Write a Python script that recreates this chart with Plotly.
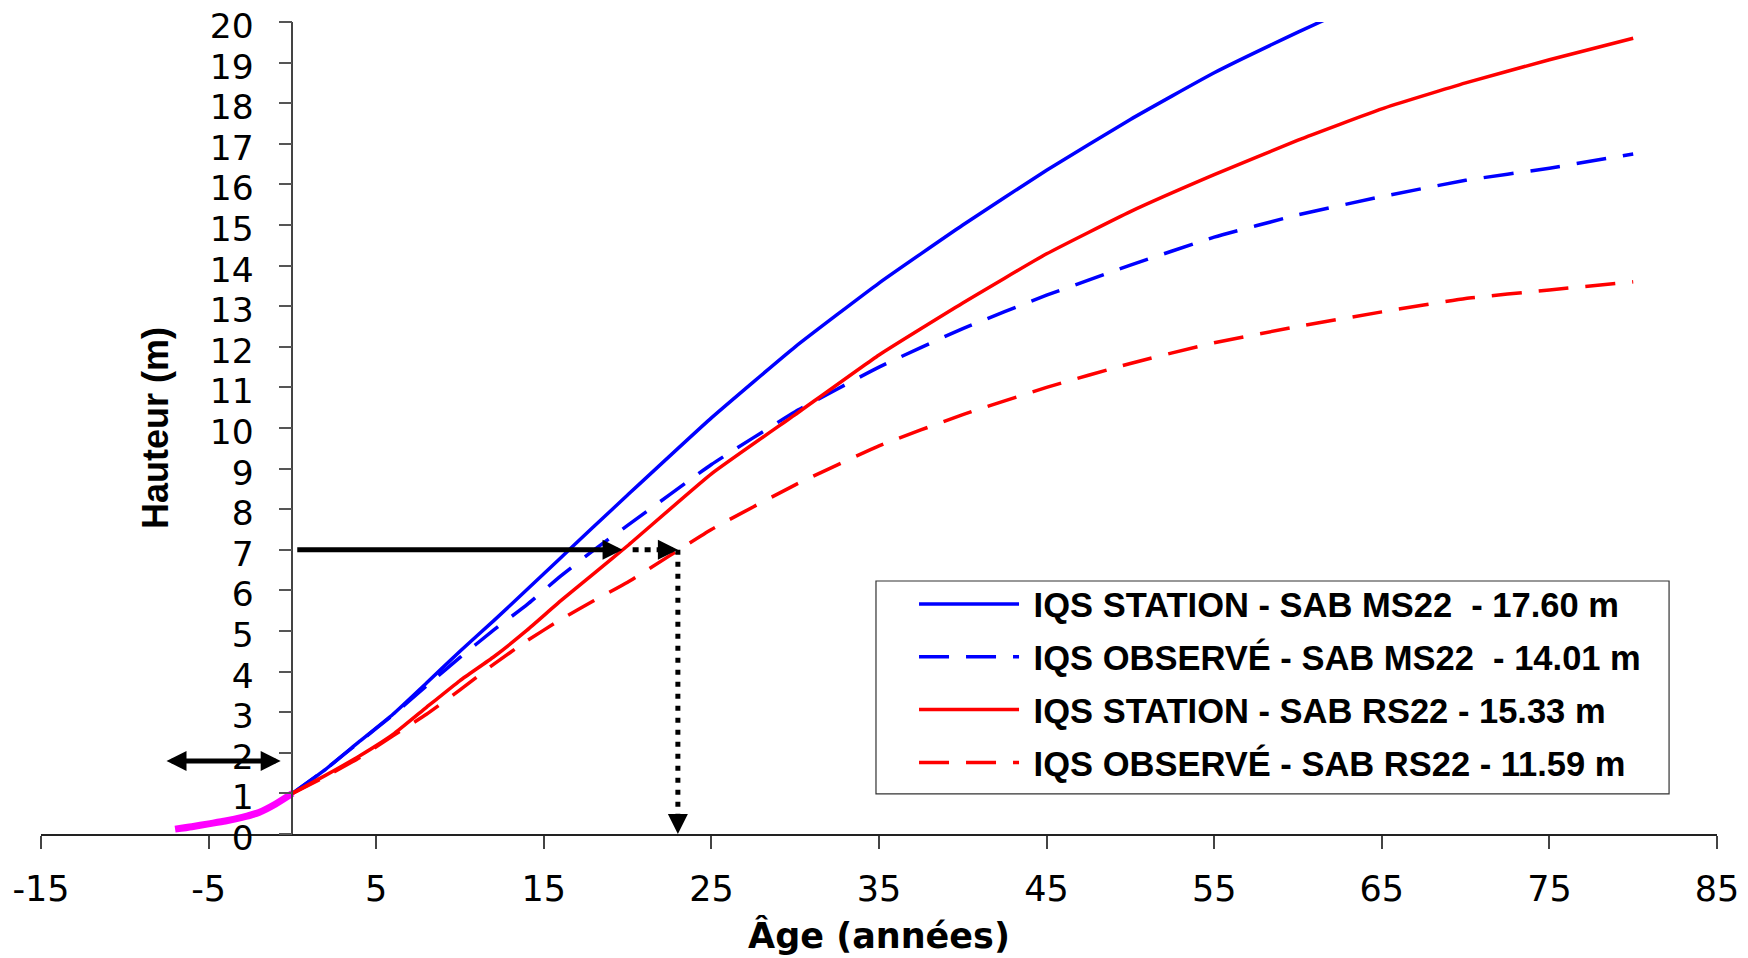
import plotly.graph_objects as go

# ---------------- data ----------------
AGES = [0, 2, 4, 6, 8, 10, 12, 14, 16, 18, 20, 25, 30, 35, 40, 45, 50, 55, 60, 65, 70, 75, 80]

STATION_MS22 = [1.0, 1.60, 2.28, 2.95, 3.72, 4.50, 5.25, 6.02, 6.80, 7.58, 8.35, 10.25, 12.0,
                13.57, 15.0, 16.35, 17.60, 18.75, 19.75, 20.7, None, None, None]
OBSERVE_MS22 = [1.0, 1.60, 2.27, 2.93, 3.65, 4.35, 5.02, 5.65, 6.35, 7.0, 7.6, 9.1, 10.4,
                11.5, 12.45, 13.27, 14.01, 14.7, 15.25, 15.7, 16.1, 16.4, 16.75]
STATION_RS22 = [1.0, 1.45, 1.92, 2.45, 3.12, 3.78, 4.36, 5.02, 5.74, 6.42, 7.10, 8.87, 10.33,
                11.8, 13.08, 14.29, 15.33, 16.24, 17.09, 17.86, 18.5, 19.07, 19.6]
OBSERVE_RS22 = [1.0, 1.42, 1.88, 2.42, 2.95, 3.55, 4.18, 4.76, 5.28, 5.75, 6.20, 7.5, 8.6,
                9.56, 10.33, 11.0, 11.59, 12.1, 12.5, 12.86, 13.19, 13.4, 13.6]

JUV_AGES = [-7, -6, -5, -4, -3, -2, -1, 0]
JUV_HEIGHTS = [0.12, 0.18, 0.25, 0.32, 0.41, 0.53, 0.74, 1.0]

SERIES_NAMES = [
    "IQS STATION - SAB MS22\u00a0 - 17.60 m",
    "IQS OBSERVÉ - SAB MS22\u00a0 - 14.01 m",
    "IQS STATION - SAB RS22 - 15.33 m",
    "IQS OBSERVÉ - SAB RS22 - 11.59 m",
]

# reading arrows (height 7 m -> age)
REF_HEIGHT = 7
AGE_STATION_RS22 = 19.7
AGE_OBSERVE_RS22 = 23
JUV_ARROW_Y = 1.8
JUV_ARROW_X = [-7.6, -0.7]

X_TICKS = [-15, -5, 5, 15, 25, 35, 45, 55, 65, 75, 85]
Y_TICKS = list(range(0, 21))

# ---------------- figure ----------------
BLUE = "#0000FF"
RED = "#FF0000"
MAG = "#FF00FF"
DASH = "30px,17px"

fig = go.Figure()
styles = [(BLUE, "solid"), (BLUE, DASH), (RED, "solid"), (RED, DASH)]
values = [STATION_MS22, OBSERVE_MS22, STATION_RS22, OBSERVE_RS22]
for i, (name, vals, (col, dash)) in enumerate(zip(SERIES_NAMES, values, styles)):
    fig.add_trace(go.Scatter(
        x=AGES, y=vals, mode="lines", name="\u00a0" + name, legendgroup=f"g{i}",
        line=dict(color=col, width=3.5, dash=dash, shape="spline", smoothing=0.4),
        connectgaps=False,
    ))

fig.add_trace(go.Scatter(
    x=JUV_AGES, y=JUV_HEIGHTS, mode="lines", showlegend=False,
    line=dict(color=MAG, width=7, shape="spline", smoothing=0.6),
))

WIDE = "DejaVu Sans, Verdana, sans-serif"
FONT = "Liberation Sans, Arial, sans-serif"
NARROW = "Liberation Sans Narrow, Arial Narrow, Liberation Sans, Arial, sans-serif"

shapes = [
    # dotted continuation lines
    dict(type="line", xref="x", yref="y", x0=AGE_STATION_RS22 + 0.6, x1=AGE_OBSERVE_RS22 - 0.9,
         y0=REF_HEIGHT, y1=REF_HEIGHT, line=dict(color="black", width=5, dash="6px,6px")),
    dict(type="line", xref="x", yref="y", x0=AGE_OBSERVE_RS22, x1=AGE_OBSERVE_RS22,
         y0=REF_HEIGHT, y1=0.4, line=dict(color="black", width=5, dash="5px,7px")),
    # legend frame
    dict(type="rect", xref="paper", yref="paper", x0=0.4982, x1=0.9714, y0=0.0493, y1=0.3116,
         line=dict(color="#333333", width=1.2), fillcolor="rgba(0,0,0,0)", layer="above"),
]

annotations = [
    dict(x=AGE_STATION_RS22, y=REF_HEIGHT, ax=0.2, ay=REF_HEIGHT, xref="x", yref="y",
         axref="x", ayref="y", text="", showarrow=True, arrowhead=2, arrowsize=0.8,
         arrowwidth=5, arrowcolor="black", standoff=0),
    dict(x=AGE_OBSERVE_RS22, y=REF_HEIGHT, ax=AGE_OBSERVE_RS22 - 0.9, ay=REF_HEIGHT, xref="x", yref="y",
         axref="x", ayref="y", text="", showarrow=True, arrowhead=2, arrowsize=0.8,
         arrowwidth=5, arrowcolor="black", standoff=0),
    dict(x=AGE_OBSERVE_RS22, y=0, ax=AGE_OBSERVE_RS22, ay=0.4, xref="x", yref="y",
         axref="x", ayref="y", text="", showarrow=True, arrowhead=2, arrowsize=1.0,
         arrowwidth=4, arrowcolor="black", standoff=0),
    dict(x=JUV_ARROW_X[1], y=JUV_ARROW_Y, ax=JUV_ARROW_X[0], ay=JUV_ARROW_Y, xref="x", yref="y",
         axref="x", ayref="y", text="", showarrow=True, arrowhead=2, startarrowhead=2,
         arrowside="end+start", arrowsize=0.8, startarrowsize=0.8,
         arrowwidth=5, arrowcolor="black", standoff=0, startstandoff=0),
]

fig.update_layout(
    width=1748, height=958,
    margin=dict(l=33, r=39, t=14, b=132, autoexpand=False),
    paper_bgcolor="white", plot_bgcolor="white",
    font=dict(family=WIDE, size=35, color="black"),
    showlegend=True,
    legend=dict(
        x=0.5209, y=0.319, xanchor="left", yanchor="top",
        bgcolor="rgba(255,255,255,0)", borderwidth=0,
        font=dict(family=NARROW, size=34.5, color="black", weight="bold"),
        itemwidth=100, tracegroupgap=5, traceorder="grouped",
    ),
    xaxis=dict(
        range=[-15, 85], tickmode="array", tickvals=X_TICKS, ticktext=[str(v) for v in X_TICKS],
        showline=True, linecolor="#222222", linewidth=1.5, automargin=False,
        ticks="outside", ticklen=13, tickcolor="#444444", tickwidth=1.5,
        showgrid=False, zeroline=False, ticklabelstandoff=10, ticklabeloverflow="allow",
        tickfont=dict(family=WIDE, size=35),
        title=dict(text="<b>Âge (années)</b>", font=dict(family=WIDE, size=35), standoff=16),
    ),
    yaxis=dict(
        range=[0, 20], tickmode="array", tickvals=Y_TICKS,
        anchor="free", position=0.15, automargin=False,
        showline=True, linecolor="#444444", linewidth=1.5,
        ticks="outside", ticklen=13, tickcolor="#555555", tickwidth=1.5,
        showgrid=False, zeroline=False, ticklabelstandoff=18, ticklabeloverflow="allow",
        ticklabelshift=4,
        tickfont=dict(family=WIDE, size=34.5),
        title=dict(text="<b>Hauteur (m)</b>", font=dict(family=FONT, size=36), standoff=29),
    ),
    shapes=shapes,
    annotations=annotations,
)

fig.write_html("out.html")
